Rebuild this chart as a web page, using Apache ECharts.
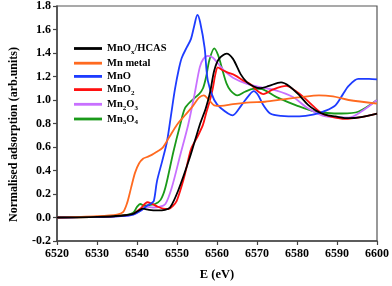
<!DOCTYPE html>
<html><head><meta charset="utf-8">
<script src="https://cdn.jsdelivr.net/npm/echarts@6/dist/echarts.min.js"></script>
<style>html,body{margin:0;padding:0;background:#fff}#c{width:392px;height:286px}</style>
</head><body><div id="c"></div>
<script>
const xTicks = [6520, 6600, 10];
const yTicks = [-0.2, 1.8, 0.2];
const seriesNames = ['MnOx/HCAS', 'Mn metal', 'MnO', 'MnO2', 'Mn2O3', 'Mn3O4'];

const hcasE = [6520,6530,6536,6539,6540.5,6541.5,6543,6545,6547,6548.3,6550.3,6553.2,6555.7,6557.2,6558.3,6559.3,6560.5,6562.4,6564,6565.9,6567.5,6569.2,6570.8,6573,6576,6578,6580.6,6582.7,6584.7,6587,6589.6,6592.9,6596,6600];
const hcasV = [0.0,0.005,0.015,0.03,0.06,0.075,0.065,0.06,0.065,0.087,0.23,0.51,0.79,0.93,1.07,1.25,1.35,1.395,1.35,1.22,1.15,1.115,1.10,1.12,1.15,1.12,1.04,0.96,0.91,0.875,0.86,0.845,0.855,0.885];

const metalE = [6520,6530,6535,6536.5,6537.5,6538.5,6539.5,6540.5,6541.5,6542.5,6543.8,6545,6546.3,6548,6550,6552,6554,6555.5,6556.7,6558,6559.3,6561,6564,6568.3,6572,6576.5,6581,6585.5,6589,6592.9,6600];
const metalV = [0.0,0.012,0.025,0.045,0.12,0.25,0.38,0.46,0.50,0.515,0.535,0.56,0.59,0.68,0.79,0.87,0.95,1.02,1.04,1.0,0.955,0.95,0.965,0.98,0.985,1.005,1.025,1.04,1.03,1.0,0.97];

const mnoE = [6520,6530,6536,6539,6541,6542.5,6543.5,6544.2,6545,6546.3,6547.5,6548.5,6549.5,6550.5,6551.2,6552.4,6553.5,6554.3,6555.1,6555.8,6556.9,6557.7,6559.3,6561,6563.9,6566,6568,6569.2,6570.3,6571.6,6573.3,6576,6580.6,6584,6587.2,6589.6,6591.5,6592.9,6595.3,6598,6600];
const mnoV = [0.0,0.005,0.012,0.025,0.06,0.10,0.12,0.14,0.31,0.48,0.647,0.87,1.094,1.27,1.36,1.445,1.52,1.63,1.725,1.66,1.445,1.165,1.0,0.93,0.87,0.95,1.04,1.075,1.04,0.955,0.885,0.865,0.86,0.875,0.91,0.955,1.05,1.12,1.18,1.18,1.175];

const mno2E = [6520,6530,6536,6539,6541,6542.6,6543.5,6545,6546.5,6547.9,6549,6549.9,6551,6552,6553,6553.6,6554.5,6555.3,6556.5,6557.3,6558.1,6558.9,6559.6,6560.2,6561.3,6562.6,6564.5,6566.6,6568.3,6570,6571.6,6574,6577.3,6579.5,6581.8,6584,6586.3,6589,6592,6596,6600];
const mno2V = [0.0,0.005,0.015,0.03,0.08,0.13,0.12,0.095,0.075,0.072,0.1,0.14,0.25,0.37,0.52,0.59,0.65,0.70,0.79,0.89,0.98,1.09,1.22,1.277,1.255,1.235,1.21,1.165,1.137,1.08,1.05,1.09,1.12,1.08,1.02,0.95,0.885,0.855,0.84,0.855,0.885];

const mn2o3E = [6520,6530,6536,6539,6541,6542.5,6544,6545.5,6547.1,6548.7,6550.8,6552.8,6554.4,6555.7,6556.6,6557.7,6559,6560.5,6561.8,6564,6567.5,6570.8,6574.9,6579,6582.7,6587.2,6592.9,6596,6600];
const mn2o3V = [0.0,0.005,0.012,0.025,0.06,0.09,0.085,0.09,0.115,0.255,0.53,0.79,1.05,1.28,1.35,1.375,1.36,1.30,1.25,1.19,1.137,1.11,1.08,1.025,0.93,0.86,0.85,0.9,1.0];

const mn3o4E = [6520,6530,6536,6539,6540,6540.8,6541.8,6543,6544.5,6545.9,6547.1,6549.1,6550.8,6552,6553.5,6555.5,6556.5,6557.3,6558.1,6559.3,6560.3,6561.4,6562.4,6563.4,6565.1,6567,6569,6570.8,6574.9,6579.8,6584.7,6591.2,6595.3,6600];
const mn3o4V = [0.0,0.005,0.015,0.04,0.09,0.115,0.10,0.105,0.115,0.15,0.255,0.56,0.79,0.93,0.99,1.05,1.10,1.2,1.34,1.44,1.38,1.25,1.14,1.08,1.04,1.07,1.095,1.095,1.025,0.955,0.9,0.885,0.90,1.0];

const colors = ['#000000', '#ff6a20', '#1e3cff', '#ff1010', '#c870ff', '#1a9a1a'];
const seriesData = [[hcasE,hcasV],[metalE,metalV],[mnoE,mnoV],[mno2E,mno2V],[mn2o3E,mn2o3V],[mn3o4E,mn3o4V]];

const legendRich = {
  'MnOx/HCAS': '{n|MnO}{s|x}{n|/HCAS}',
  'Mn metal': '{n|Mn metal}',
  'MnO': '{n|MnO}',
  'MnO2': '{n|MnO}{s|2}',
  'Mn2O3': '{n|Mn}{s|2}{n|O}{s|3}',
  'Mn3O4': '{n|Mn}{s|3}{n|O}{s|4}'
};

const FONT = 'Liberation Serif';
const chart = echarts.init(document.getElementById('c'), null, {renderer: 'canvas'});
chart.setOption({
  animation: false,
  color: colors,
  grid: {left: 53, right: 13, top: 6, bottom: 42, show: true, borderColor: '#555', borderWidth: 1.2, containLabel: false},
  legend: {
    orient: 'vertical', left: 69, top: 38, itemWidth: 28, itemHeight: 14, itemGap: 2.2,
    icon: 'path://M0,0 L10,0 L10,1 L0,1 Z',
    data: seriesNames,
    formatter: n => legendRich[n],
    textStyle: {
      rich: {
        n: {fontFamily: FONT, fontWeight: 'bold', fontSize: 10.5, lineHeight: 14, color: '#000'},
        s: {fontFamily: FONT, fontWeight: 'bold', fontSize: 7, lineHeight: 14, color: '#000', verticalAlign: 'bottom', padding: [5,0,0,0]}
      }
    }
  },
  xAxis: {
    type: 'value', min: xTicks[0], max: xTicks[1], interval: xTicks[2],
    name: 'E (eV)', nameLocation: 'middle', nameGap: 27,
    nameTextStyle: {fontFamily: FONT, fontWeight: 'bold', fontSize: 12.5, color: '#000'},
    axisLine: {onZero: false, lineStyle: {color: '#444', width: 1.5}},
    axisTick: {show: true, inside: false, length: 4, lineStyle: {color: '#444', width: 1.2}},
    axisLabel: {fontFamily: FONT, fontWeight: 'bold', fontSize: 12, color: '#000', margin: 7, formatter: v => String(v)},
    splitLine: {show: false}
  },
  yAxis: {
    type: 'value', min: yTicks[0], max: yTicks[1], interval: yTicks[2],
    name: 'Normalised adsorption (arb.units)', nameLocation: 'middle', nameGap: 37, nameRotate: 90,
    nameTextStyle: {fontFamily: FONT, fontWeight: 'bold', fontSize: 12, color: '#000', padding: [0,22,0,0]},
    axisLine: {onZero: false, lineStyle: {color: '#444', width: 1.5}},
    axisTick: {show: true, inside: false, length: 4, lineStyle: {color: '#444', width: 1.2}},
    axisLabel: {fontFamily: FONT, fontWeight: 'bold', fontSize: 12, color: '#000', margin: 6, formatter: v => v.toFixed(1)},
    splitLine: {show: false}
  },
  series: seriesNames.map((name, i) => ({
    name: name, type: 'line', smooth: 0.3, symbol: 'none', showSymbol: false,
    lineStyle: {width: 1.8, color: colors[i]},
    itemStyle: {color: colors[i]},
    z: 10 - i,
    data: seriesData[i][0].map((e, k) => [e, seriesData[i][1][k]])
  }))
});
</script></body></html>
